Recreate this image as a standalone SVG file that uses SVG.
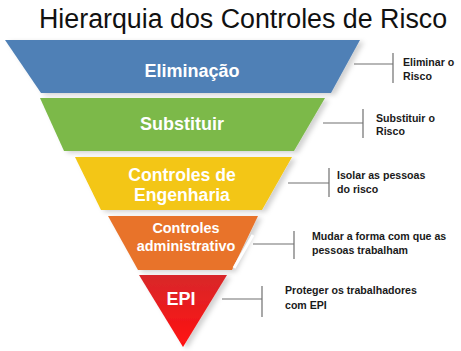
<svg xmlns="http://www.w3.org/2000/svg" width="461" height="351" viewBox="0 0 461 351">
<defs>
<filter id="sh" x="-10%" y="-10%" width="130%" height="130%">
<feGaussianBlur in="SourceAlpha" stdDeviation="2.5"/>
<feOffset dx="4" dy="2" result="b"/>
<feFlood flood-color="#000" flood-opacity="0.18"/>
<feComposite in2="b" operator="in"/>
<feMerge><feMergeNode/><feMergeNode in="SourceGraphic"/></feMerge>
</filter>
<linearGradient id="gRed" x1="0" y1="0" x2="0" y2="1">
<stop offset="0" stop-color="#d8282a"/>
<stop offset="1" stop-color="#ff1010"/>
</linearGradient>
</defs>
<style>
.band{filter:url(#sh);}
.bt{font-family:"Liberation Sans",Arial,sans-serif;font-weight:bold;fill:#fff;text-anchor:middle;}
.st{font-family:"Liberation Sans",Arial,sans-serif;font-weight:bold;font-size:10.6px;fill:#1a1a1a;}
.ln{stroke:#707070;stroke-width:1.2;fill:none;}
</style>
<rect width="461" height="351" fill="#fff"/>
<text x="39" y="28" font-family="Liberation Sans,Arial,sans-serif" font-size="26.8" fill="#111">Hierarquia dos Controles de Risco</text>

<g id="n-eliminacao">
<polygon class="band" points="5,40 360,40 331,93 41,93" fill="#4f80b6"/>
<text class="bt" x="192" y="77" font-size="18">Eliminação</text>
</g>
<g id="n-substituir">
<polygon class="band" points="40,98 325,98 294,151 64,151" fill="#7cb94a"/>
<text class="bt" x="182" y="130" font-size="18">Substituir</text>
</g>
<g id="n-engenharia">
<polygon class="band" points="75,157 292,157 262,210 101,210" fill="#f3c612"/>
<text class="bt" x="182" y="181" font-size="17.6">Controles de</text>
<text class="bt" x="182" y="200.5" font-size="17.6">Engenharia</text>
</g>
<g id="n-administrativo">
<polygon class="band" points="108,216 258,216 232,270 138,270" fill="#e8732b"/>
<line x1="253" y1="235" x2="234" y2="268" stroke="#fff" stroke-width="3"/>
<text class="bt" x="186" y="233" font-size="14.4">Controles</text>
<text class="bt" x="186" y="250.5" font-size="14.4">administrativo</text>
</g>
<g id="n-epi">
<polygon class="band" points="139,275 227,275 183,347" fill="url(#gRed)"/>
<text class="bt" x="181" y="305" font-size="18">EPI</text>
</g>

<g id="connectors">
<path class="ln" d="M354,64 H393 M393,53 V83"/>
<path class="ln" d="M323,123 H363 M363,109 V138"/>
<path class="ln" d="M288,183 H329 M329,168 V197"/>
<path class="ln" d="M253,244 H294 M294,231 V259"/>
<path class="ln" d="M222,299 H262 M262,286 V317"/>
</g>

<g id="labels">
<text class="st" x="403" y="66">Eliminar o</text>
<text class="st" x="403" y="79.5">Risco</text>
<text class="st" x="376" y="122">Substituir o</text>
<text class="st" x="376" y="135">Risco</text>
<text class="st" x="337" y="179">Isolar as pessoas</text>
<text class="st" x="337" y="193">do risco</text>
<text class="st" x="312" y="240">Mudar a forma com que as</text>
<text class="st" x="312" y="253.5">pessoas trabalham</text>
<text class="st" x="285" y="294">Proteger os trabalhadores</text>
<text class="st" x="285" y="309">com EPI</text>
</g>
</svg>
